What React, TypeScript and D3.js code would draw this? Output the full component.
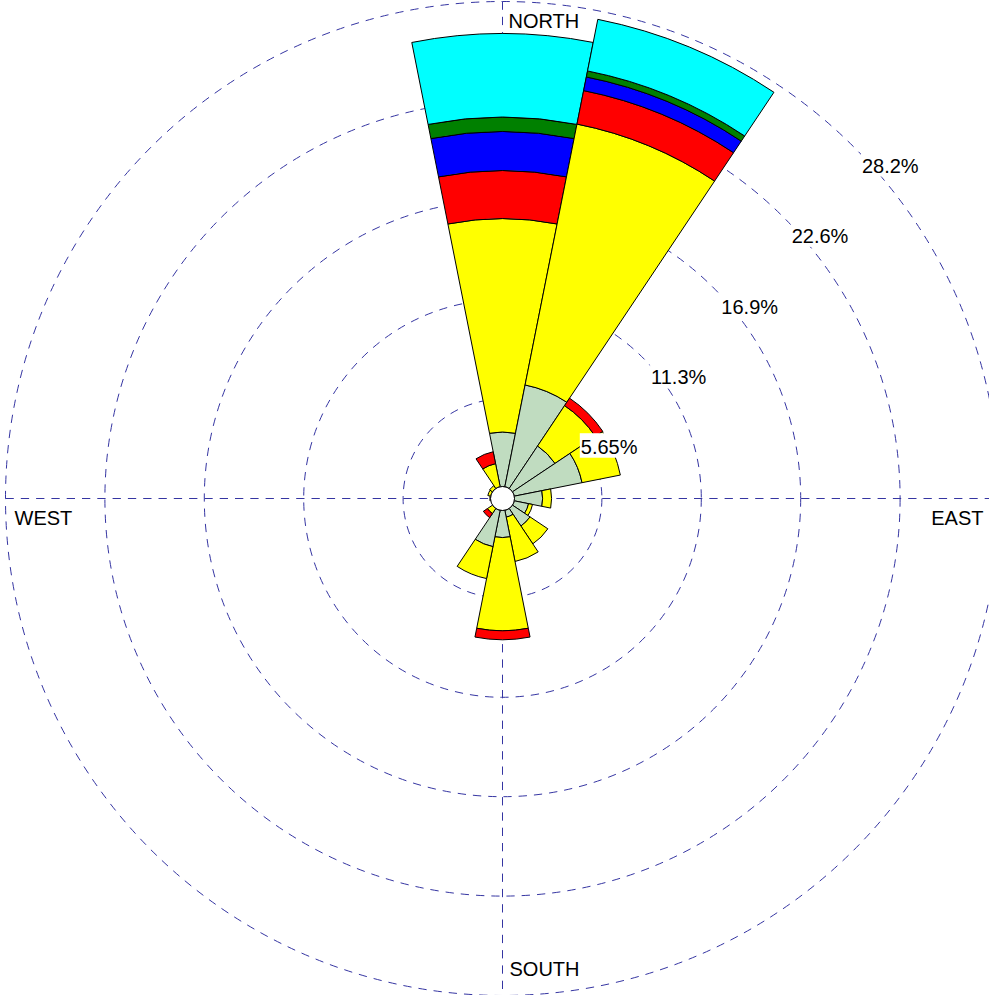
import React from "react";
import * as d3 from "d3";

// ---- data (percent frequency per direction, stacked by speed class) ----
const directions = ["N", "NNE", "NE", "ENE", "E", "ESE", "SE", "SSE", "S", "SSW", "SW", "WSW", "W", "WNW", "NW", "NNW"];
const classGray = [3.78, 6.58, 3.59, 4.61, 2.28, 1.51, 1.88, 1.08, 2.22, 2.79, 0, 0, 0, 0, 0, 0];
const classYellow = [12.13, 15.12, 2.76, 2.22, 0.51, 0.23, 1.22, 2.57, 5.30, 1.85, 1.03, 0, 0.72, 0.85, 0.88, 2.02];
const classRed = [2.73, 1.94, 0.51, 0, 0, 0, 0, 0, 0.51, 0, 0.28, 0, 0, 0, 0, 0.69];
const classBlue = [2.22, 0.79, 0, 0, 0, 0, 0, 0, 0, 0, 0, 0, 0, 0, 0, 0];
const classGreen = [0.82, 0.35, 0, 0, 0, 0, 0, 0, 0, 0, 0, 0, 0, 0, 0, 0];
const classCyan = [4.75, 2.99, 0, 0, 0, 0, 0, 0, 0, 0, 0, 0, 0, 0, 0, 0];
const classColors = ["#c0dcc0", "#ffff00", "#ff0000", "#0000ff", "#008000", "#00ffff"];

const ringValues = [5.65, 11.3, 16.95, 22.6, 28.25];
const ringLabels = ["5.65%", "11.3%", "16.9%", "22.6%", "28.2%"];
const compassLabels = ["NORTH", "EAST", "SOUTH", "WEST"];

const W = 989;
const H = 995;
const cx = 502.5;
const cy = 498.5;
const R = 497;
const hole = 12;
const FONT = "'Liberation Sans', Arial, Helvetica, sans-serif";
const gridColor = "#3535a2";

const charW: Record<string, number> = { ".": 0.278, "%": 0.889 };
function textWidth(s: string, size: number) {
  let w = 0;
  for (const c of s) w += (charW[c] ?? 0.556) * size;
  return w;
}

export default function App() {
  const r = d3.scaleLinear().domain([0, ringValues[ringValues.length - 1]]).range([0, R]);
  const series = [classGray, classYellow, classRed, classBlue, classGreen, classCyan];
  const step = (2 * Math.PI) / directions.length;
  const arc = d3.arc<any>();

  const segments: { d: string; fill: string; key: string }[] = [];
  directions.forEach((dir, i) => {
    let cum = 0;
    series.forEach((s, j) => {
      const prev = cum;
      cum += s[i];
      const inner = Math.max(hole, r(prev));
      const outer = Math.max(hole, r(cum));
      if (outer - inner <= 0.01) return;
      const d = arc({
        innerRadius: inner,
        outerRadius: outer,
        startAngle: i * step - step / 2,
        endAngle: i * step + step / 2,
      }) as string;
      segments.push({ d, fill: classColors[j], key: `${dir}-${j}` });
    });
  });

  const fs = 20;
  const diag = Math.SQRT1_2;
  const dash = "8.3 7";

  return (
    <svg width={W} height={H} style={{ position: "absolute", left: 0, top: 0, background: "#fff" }}>
      <rect x={0} y={0} width={W} height={H} fill="#fff" />
      <g transform={`translate(${cx},${cy})`}>
        {ringValues.map((v) => (
          <circle key={v} r={r(v)} fill="none" stroke={gridColor} strokeWidth={1} strokeDasharray={dash} />
        ))}
        <line x1={-R} y1={0} x2={R} y2={0} stroke={gridColor} strokeWidth={1} strokeDasharray={dash} />
        <line x1={0} y1={-R} x2={0} y2={R} stroke={gridColor} strokeWidth={1} strokeDasharray={dash} />
        {segments.map((s) => (
          <path key={s.key} d={s.d} fill={s.fill} stroke="#000" strokeWidth={1} strokeLinejoin="round" />
        ))}
        <circle r={hole} fill="#fff" stroke="#000" strokeWidth={1} />
        {ringValues.map((v, i) => {
          const x = r(v) * diag + 8;
          const y = -r(v) * diag + 26;
          const w = textWidth(ringLabels[i], fs);
          return (
            <g key={`lbl-${v}`}>
              <rect x={x - 1} y={y - 21} width={w + 2} height={24.5} fill="#fff" />
              <text x={x} y={y} fontFamily={FONT} fontSize={fs} fill="#000">
                {ringLabels[i]}
              </text>
            </g>
          );
        })}
        <text x={6} y={-471} fontFamily={FONT} fontSize={fs} fill="#000">{compassLabels[0]}</text>
        <text x={481} y={26} fontFamily={FONT} fontSize={fs} fill="#000" textAnchor="end">{compassLabels[1]}</text>
        <text x={7} y={477} fontFamily={FONT} fontSize={fs} fill="#000">{compassLabels[2]}</text>
        <text x={-488} y={26} fontFamily={FONT} fontSize={fs} fill="#000">{compassLabels[3]}</text>
      </g>
    </svg>
  );
}
